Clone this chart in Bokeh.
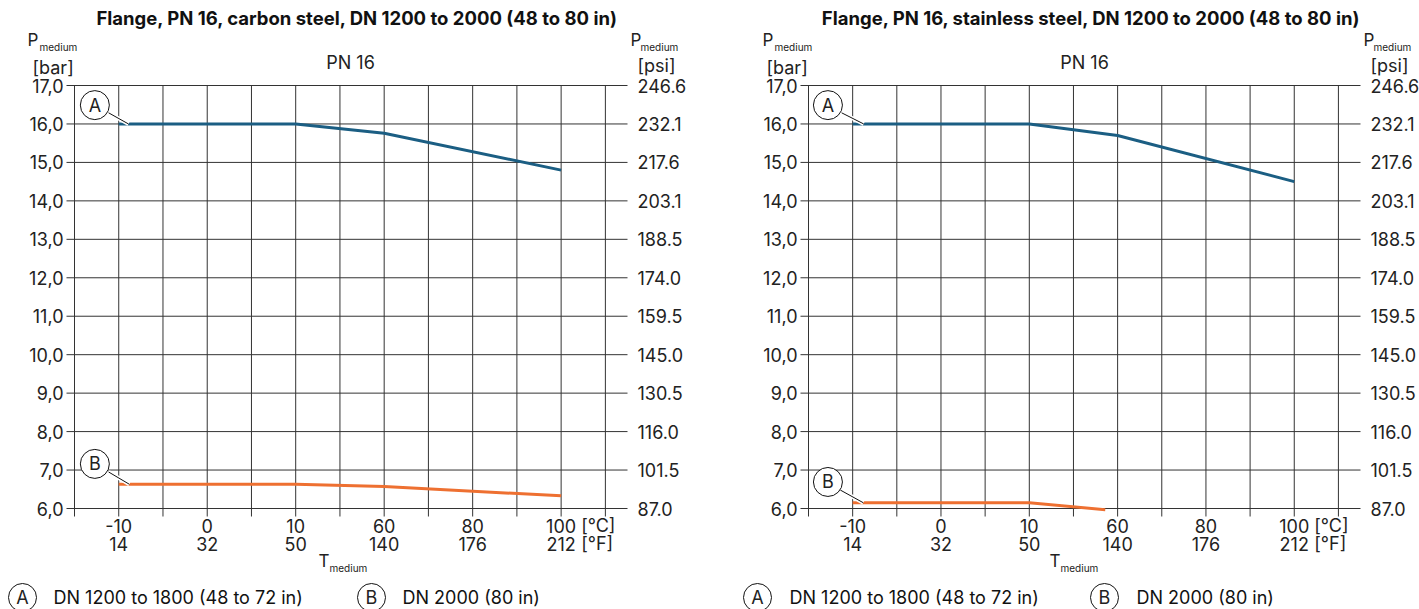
import numpy as np
from bokeh.plotting import figure
from bokeh.models import Range1d
from bokeh.layouts import row
from bokeh.embed import file_html
from bokeh.resources import INLINE
from bokeh.core.properties import value

FONT = "Inter"
TXT = "#222222"
GRID = "#333333"
BLUE = "#1b5e83"
ORANGE = "#ee7031"

# ---------------- data ----------------
titles = ["Flange, PN 16, carbon steel, DN 1200 to 2000 (48 to 80 in)",
          "Flange, PN 16, stainless steel, DN 1200 to 2000 (48 to 80 in)"]
temp_c = [-10, 0, 10, 60, 80, 100]
temp_c_labels = ["-10", "0", "10", "60", "80", "100"]
temp_f_labels = ["14", "32", "50", "140", "176", "212"]
temp_tick_pos = [1, 3, 5, 7, 9, 11]
grid_x = [0, 1, 2, 3, 4, 5, 6, 7, 8, 9, 10, 11, 12]
bar_ticks = [6, 7, 8, 9, 10, 11, 12, 13, 14, 15, 16, 17]
bar_labels = ["6,0", "7,0", "8,0", "9,0", "10,0", "11,0", "12,0", "13,0", "14,0", "15,0", "16,0", "17,0"]
psi_labels = ["87.0", "101.5", "116.0", "130.5", "145.0", "159.5", "174.0", "188.5", "203.1", "217.6", "232.1", "246.6"]

cs_a_t = [-10, 10, 60, 100]
cs_a_p = [16.0, 16.0, 15.76, 14.8]
cs_b_t = [-10, 10, 60, 100]
cs_b_p = [6.63, 6.63, 6.57, 6.33]
ss_a_t = [-10, 10, 60, 100]
ss_a_p = [16.0, 16.0, 15.7, 14.5]
ss_b_t = [-10, 10, 53]
ss_b_p = [6.15, 6.15, 5.97]

legend_a = "DN 1200 to 1800 (48 to 72 in)"
legend_b = "DN 2000 (80 in)"

X_MAX = 12.5


def tpos(t):
    return list(np.interp(t, temp_c, temp_tick_pos))


H = 609
Y_TOP_PX = 85      # page y of 17,0
Y_BOT_PX = 508     # page y of 6,0
SY = (Y_BOT_PX - Y_TOP_PX) / 11.0
FS = "18px"


def vy(py):
    return 6 + (Y_BOT_PX - py) / SY


def make_chart(title, a_t, a_p, b_t, b_p, cfg):
    W, o, FL, FR = cfg["width"], cfg["ox"], cfg["fl"], cfg["fr"]
    SX = (FR - FL) / X_MAX

    def ux(px):
        return (px - FL) / SX

    p = figure(width=W, height=H, output_backend="svg", toolbar_location=None,
               x_range=Range1d(ux(o), ux(o + W)), y_range=Range1d(vy(H), vy(0)),
               x_axis_location=None, y_axis_location=None, min_border=0)
    p.outline_line_color = None
    p.background_fill_color = "white"
    p.border_fill_color = "white"
    p.xgrid.visible = False
    p.ygrid.visible = False

    def txt(xs, ys, texts, size=FS, align="left", style="normal", color=TXT):
        p.text(x=xs, y=ys, text=texts, text_font=value(FONT), text_font_size=size,
               text_font_style=style, text_align=align, text_baseline="middle",
               text_color=color)

    # grid + axis lines (from the tick arrays)
    y_low = vy(Y_BOT_PX + 8)
    p.segment(x0=[ux(FL - 8)] * len(bar_ticks), x1=[X_MAX] * len(bar_ticks),
              y0=bar_ticks, y1=bar_ticks, line_color=GRID, line_width=1)
    p.segment(x0=grid_x, x1=grid_x, y0=[y_low] * len(grid_x), y1=[17.0] * len(grid_x),
              line_color=GRID, line_width=1)

    # tick labels
    txt([ux(FL - 11)] * len(bar_ticks), bar_ticks, bar_labels, align="right")
    txt([ux(FR + 10)] * len(bar_ticks), bar_ticks, psi_labels)
    txt(temp_tick_pos, [vy(525)] * len(temp_tick_pos), temp_c_labels, align="center")
    txt(temp_tick_pos, [vy(543)] * len(temp_tick_pos), temp_f_labels, align="center")
    x_unit = temp_tick_pos[-1] + 20 / SX
    txt([x_unit, x_unit], [vy(525), vy(543)], ["[°C]", "[°F]"])

    # series
    p.line(tpos(a_t), a_p, line_color=BLUE, line_width=3)
    p.line(tpos(b_t), b_p, line_color=ORANGE, line_width=3)

    # callouts
    for (cxu, cyv, sx, sy, ex, ey, letter) in cfg["callouts"]:
        p.line([sx, ex], [sy, ey], line_color="white", line_width=4)
        p.line([sx, ex], [sy, ey], line_color="#111111", line_width=1)
        p.scatter([cxu], [cyv], size=29, marker="circle", fill_color="white",
                  line_color="#111111", line_width=1)
        txt([cxu], [cyv], [letter], align="center")

    # titles and unit labels
    txt([ux(cfg["title_x"])], [vy(17)], [title], "18.5px", "center", "bold", "#111111")
    pl, pr = cfg["p_l"], cfg["p_r"]
    txt([ux(pl), ux(pr)], [vy(39), vy(39)], ["P", "P"], "17px")
    txt([ux(pl + 12), ux(pr + 10)], [vy(46), vy(46)], ["medium", "medium"], "10px")
    txt([ux(cfg["bar_l"])], [vy(67)], ["[bar]"])
    txt([ux(pr + 7)], [vy(65)], ["[psi]"])
    txt([ux(cfg["pn_x"])], [vy(62)], ["PN 16"], align="center")
    tl = cfg["t_l"]
    txt([ux(tl)], [vy(560)], ["T"], "17px")
    txt([ux(tl + 11)], [vy(567)], ["medium"], "10px")

    # legend
    lx = cfg["leg"]
    ly = vy(597)
    p.scatter([ux(lx[0]), ux(lx[2])], [ly, ly], size=28, marker="circle",
              fill_color="white", line_color="#111111", line_width=1)
    txt([ux(lx[0]), ux(lx[2])], [ly, ly], ["A", "B"], align="center")
    txt([ux(lx[1]), ux(lx[3])], [ly, ly], [legend_a, legend_b], color="#111111")
    return p


cfg1 = dict(width=708, ox=0, fl=74, fr=627, title_x=357, p_l=27, bar_l=32, pn_x=350,
            p_r=630, t_l=318, leg=[22, 53, 371, 402],
            callouts=[(0.46, 16.49, 0.77, 16.29, 1.22, 16.0, "A"),
                      (0.46, 7.16, 0.77, 6.95, 1.24, 6.63, "B")])
cfg2 = dict(width=711, ox=708, fl=808, fr=1360, title_x=1091, p_l=762, bar_l=766,
            pn_x=1084, p_r=1363, t_l=1049, leg=[757, 789, 1104, 1136],
            callouts=[(0.44, 16.49, 0.75, 16.29, 1.25, 16.0, "A"),
                      (0.44, 6.69, 0.72, 6.48, 1.24, 6.15, "B")])

c1 = make_chart(titles[0], cs_a_t, cs_a_p, cs_b_t, cs_b_p, cfg1)
c2 = make_chart(titles[1], ss_a_t, ss_a_p, ss_b_t, ss_b_p, cfg2)
layout = row(c1, c2)

open("out.html", "w").write(file_html(layout, INLINE))
